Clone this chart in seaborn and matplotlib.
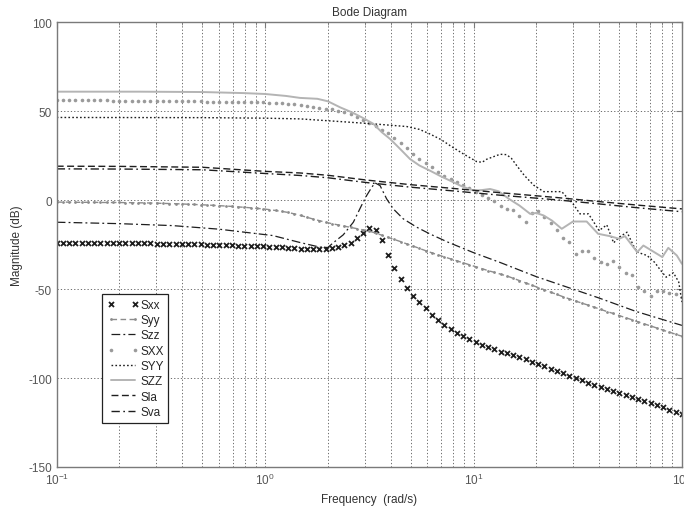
import numpy as np
import matplotlib
matplotlib.use("Agg")
import matplotlib.pyplot as plt
import seaborn as sns

# frequencies of the marker curves (bode samples, rad/s)
pt_freq = np.logspace(-1, 2, 101)

Sxx = [-23.8, -23.8, -23.8, -23.9, -23.9, -23.9, -24.0, -24.0, -24.0, -24.1,
       -24.1, -24.1, -24.2, -24.2, -24.3, -24.3, -24.4, -24.4, -24.5, -24.6,
       -24.6, -24.7, -24.8, -24.9, -25.0, -25.1, -25.2, -25.3, -25.4, -25.5,
       -25.6, -25.7, -25.8, -25.9, -26.1, -26.3, -26.5, -26.7, -27.0, -27.2,
       -27.4, -27.5, -27.5, -27.3, -26.9, -26.1, -25.4, -23.9, -21.4, -18.4,
       -15.5, -16.7, -22.6, -30.9, -38.3, -44.2, -49.1, -53.6, -57.4, -60.9,
       -64.3, -67.2, -69.9, -72.4, -74.6, -76.5, -78.2, -79.8, -81.2, -82.6,
       -83.9, -85.1, -86.2, -87.3, -88.3, -89.4, -90.7, -92.0, -93.4, -94.7,
       -96.0, -97.4, -98.7, -100.0, -101.3, -102.6, -103.9, -105.3, -106.4, -107.5,
       -108.4, -109.4, -110.5, -111.6, -112.9, -113.9, -115.0, -116.4, -117.7, -118.9,
       -120.0]

Syy = [-1.1, -1.1, -1.1, -1.2, -1.2, -1.2, -1.2, -1.3, -1.3, -1.3,
       -1.3, -1.4, -1.4, -1.5, -1.5, -1.6, -1.7, -1.8, -1.9, -2.0,
       -2.1, -2.3, -2.4, -2.6, -2.7, -2.9, -3.1, -3.3, -3.5, -3.8,
       -4.0, -4.3, -4.6, -4.9, -5.3, -5.8, -6.3, -6.9, -7.7, -8.6,
       -9.6, -10.6, -11.5, -12.4, -13.2, -13.9, -14.6, -15.3, -16.0, -16.7,
       -17.4, -18.5, -19.7, -20.9, -22.1, -23.3, -24.6, -25.8, -27.1, -28.4,
       -29.6, -30.8, -31.9, -33.0, -34.1, -35.2, -36.3, -37.4, -38.5, -39.6,
       -40.6, -41.6, -42.6, -43.9, -45.2, -46.5, -47.8, -49.1, -50.4, -51.7,
       -53.0, -54.3, -55.5, -56.7, -57.9, -59.0, -60.2, -61.4, -62.6, -63.7,
       -64.9, -66.1, -67.2, -68.4, -69.6, -70.7, -71.9, -73.1, -74.2, -75.4,
       -76.5]

SXX = [56.2, 56.2, 56.2, 56.2, 56.2, 56.1, 56.1, 56.1, 56.1, 56.0,
       56.0, 56.0, 56.0, 55.9, 55.9, 55.9, 55.8, 55.8, 55.7, 55.7,
       55.6, 55.6, 55.5, 55.5, 55.4, 55.4, 55.4, 55.3, 55.3, 55.2,
       55.2, 55.1, 55.1, 55.0, 54.9, 54.7, 54.4, 54.1, 53.8, 53.5,
       53.0, 52.5, 52.0, 51.5, 51.0, 50.4, 49.5, 48.3, 46.8, 45.1,
       43.6, 41.5, 39.7, 37.8, 35.2, 32.4, 29.3, 26.0, 23.1, 20.9,
       18.5, 15.6, 13.5, 11.8, 10.0, 8.3, 6.6, 4.8, 2.9, 1.2,
       -0.6, -3.5, -4.9, -5.5, -9.0, -12.4, -7.0, -6.2, -9.5, -12.8,
       -16.8, -21.5, -23.5, -30.5, -28.7, -28.5, -32.3, -35.0, -36.0, -34.0,
       -37.5, -40.8, -41.8, -48.8, -51.0, -53.6, -50.8, -51.2, -52.2, -53.0,
       -54.5]

# line curves, read point by point
szz_w = [0.1, 0.2, 0.36, 0.6, 1.09, 1.47, 1.83, 2.0, 2.12, 2.37, 2.65, 2.9, 3.07, 3.25,
         3.37, 3.56, 3.83, 4.12, 4.6, 5.34, 6.18, 7.5, 10.0, 13.4, 20.0, 30.0, 40.0, 60.0, 100.0]
Szz = [-12.4, -13.2, -14.3, -16.3, -19.9, -23.8, -26.4, -26.6, -24.0, -19.5, -12.4, -3.0, 2.6, 7.3,
       9.7, 8.2, 0.7, -4.9, -10.5, -15.2, -19.0, -23.5, -29.5, -35.0, -43.0, -50.0, -55.0, -62.5, -70.4]

SYY_w = [0.1, 0.5, 1.0, 1.47, 2.29, 3.31, 4.78, 5.5, 6.18, 7.0, 7.71, 8.94, 10.35, 11.0, 11.56,
         12.5, 13.4, 14.4, 15.2, 16.1, 17.5, 19.4, 21.7, 24.0, 26.5, 28.0, 30.0, 32.4, 35.6, 37.6,
         40.0, 43.6, 47.0, 50.0, 54.5, 58.5, 61.0, 68.0, 74.0, 78.5, 84.0, 91.0, 96.5, 100.0]
SYY = [46.5, 46.4, 46.1, 45.7, 44.2, 42.9, 41.4, 39.8, 37.2, 34.0, 30.7, 26.0, 21.7, 21.3, 23.0,
       24.5, 25.8, 25.6, 23.5, 19.5, 14.0, 8.5, 4.8, 4.8, 4.8, 1.7, -2.0, -7.7, -7.7, -12.0,
       -17.1, -13.9, -24.0, -20.8, -18.0, -25.5, -29.2, -31.1, -35.0, -39.0, -43.3, -40.8, -46.0, -57.3]

SZZ_w = [0.1, 0.25, 0.5, 0.79, 1.0, 1.26, 1.47, 1.78, 2.0, 2.29, 2.63, 2.95, 3.31, 3.63, 3.98,
         4.47, 4.95, 5.5, 6.18, 6.92, 7.71, 8.71, 10.0, 11.0, 12.0, 13.2, 14.8, 16.6, 18.7, 20.0,
         21.7, 23.8, 26.5, 30.0, 34.9, 39.6, 45.0, 50.0, 53.3, 61.0, 65.3, 71.5, 80.5, 86.0, 94.5, 100.0]
SZZ = [61.0, 61.0, 60.8, 60.2, 59.7, 58.6, 57.5, 57.0, 55.6, 52.2, 49.2, 46.2, 42.9, 38.2, 34.4,
       28.5, 23.2, 19.5, 16.6, 13.6, 11.0, 8.0, 5.4, 5.7, 6.3, 5.0, 0.7, -3.0, -7.7, -7.2,
       -8.6, -11.5, -16.1, -12.0, -12.0, -18.9, -20.2, -21.7, -20.2, -29.2, -25.5, -28.3, -32.0, -26.8, -31.1, -35.8]

s_w = [0.1, 0.2, 0.5, 1.0, 1.47, 2.0, 3.07, 5.0, 8.0, 13.4, 25.0, 40.0, 63.0, 100.0]
Sla = [19.1, 19.0, 18.5, 16.2, 15.3, 14.0, 11.3, 8.7, 6.6, 4.2, 1.5, -0.8, -2.9, -4.9]
Sva = [17.6, 17.5, 17.1, 15.0, 13.9, 12.6, 9.9, 7.3, 5.2, 2.8, 0.2, -2.1, -4.4, -6.5]

sns.set_style("white")
plt.rcParams["font.family"] = ["Liberation Sans", "DejaVu Sans"]
plt.rcParams["mathtext.default"] = "regular"
plt.rcParams["axes.unicode_minus"] = False

fig = plt.figure(figsize=(6.84, 5.10), dpi=100)
ax = fig.add_axes([0.0829, 0.0824, 0.9141, 0.8719])

dark = "#1e1e1e"
sns.lineplot(x=pt_freq, y=Sxx, ax=ax, linestyle="", marker="x", markersize=3.6,
             markeredgewidth=1.3, markeredgecolor=dark, color=dark, label="Sxx")
sns.lineplot(x=pt_freq, y=Syy, ax=ax, color="#8c8c8c", linestyle=(0, (4, 2.5)), lw=1.0,
             marker="o", markersize=2.0, markeredgewidth=0, markerfacecolor="#8c8c8c", label="Syy")
sns.lineplot(x=szz_w, y=Szz, ax=ax, color=dark, linestyle=(0, (7, 2.5, 1.5, 2.5)), lw=0.9, label="Szz")
sns.lineplot(x=pt_freq, y=SXX, ax=ax, linestyle="", marker="o", markersize=2.6,
             markeredgewidth=0, markerfacecolor="#9a9a9a", color="#9a9a9a", label="SXX")
sns.lineplot(x=SYY_w, y=SYY, ax=ax, color=dark, linestyle=(0, (1.2, 1.6)), lw=1.0, label="SYY")
sns.lineplot(x=SZZ_w, y=SZZ, ax=ax, color="#b4b4b4", lw=1.4, label="SZZ")
sns.lineplot(x=s_w, y=Sla, ax=ax, color=dark, linestyle=(0, (5, 2.5)), lw=1.0, label="Sla")
sns.lineplot(x=s_w, y=Sva, ax=ax, color=dark, linestyle=(0, (6, 2.5, 1.2, 2.5)), lw=1.0, label="Sva")

ax.set_xscale("log")
ax.set_xlim(0.1, 100)
ax.set_ylim(-150, 100)
ax.set_yticks([-150, -100, -50, 0, 50, 100])

grid_kw = dict(color="#555555", linestyle=(0, (1.5, 2.5)), linewidth=0.6)
ax.grid(True, which="both", axis="x", **grid_kw)
ax.grid(True, which="major", axis="y", **grid_kw)

for sp in ax.spines.values():
    sp.set_color("#7a7a7a")
    sp.set_linewidth(1.0)
ax.tick_params(which="both", direction="in", top=True, right=True, colors="#7a7a7a",
               labelcolor="#555555", labelsize=8.5)
ax.tick_params(which="major", length=4)
ax.tick_params(which="minor", length=2)

ax.set_title("Bode Diagram", fontsize=8.5, color="#333333", pad=5)
ax.set_xlabel("Frequency  (rad/s)", fontsize=8.5, color="#333333", labelpad=4)
ax.set_ylabel("Magnitude (dB)", fontsize=8.5, color="#333333", labelpad=4)

handles, labels = ax.get_legend_handles_labels()
leg = ax.legend(handles, labels, loc="upper left", bbox_to_anchor=(0.073, 0.389),
                borderaxespad=0, fontsize=8.5, numpoints=2, handlelength=2.7,
                handletextpad=0.1, labelspacing=0.28, borderpad=0.4, fancybox=False,
                framealpha=1, edgecolor="#222222")
leg.get_frame().set_linewidth(0.9)

fig.savefig("out.png", dpi=100)
